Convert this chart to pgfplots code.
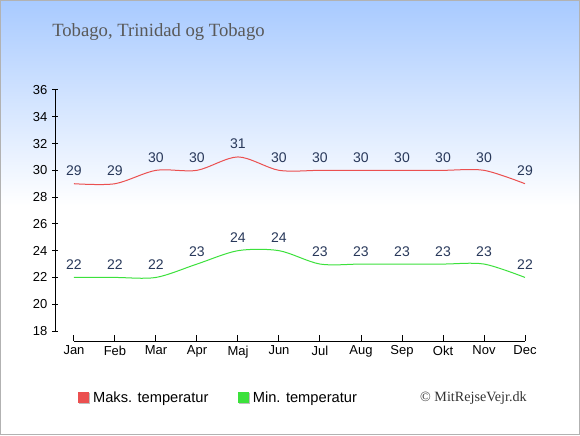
\documentclass[border=0pt]{standalone}
\usepackage{pgfplots}
\pgfplotsset{compat=1.18}
\usepackage{fontspec}
\setmainfont{Liberation Serif}
\setsansfont{Liberation Sans}
\definecolor{maxc}{RGB}{235,80,80}
\definecolor{minc}{RGB}{60,225,60}
\definecolor{labc}{RGB}{40,56,90}
\definecolor{topc}{RGB}{168,202,255}
\begin{document}
\begin{tikzpicture}
\fill[white] (0pt,0pt) rectangle (435pt,326.25pt);
\shade[top color=topc, bottom color=white] (0pt,172pt) rectangle (435pt,326.25pt);
\draw[black!30, line width=0.75pt] (0.375pt,0.375pt) rectangle (434.625pt,325.875pt);
\node[anchor=west, font=\fontsize{14}{16}\selectfont, text=black!65, inner sep=0pt] at (39pt,302.25pt) {Tobago, Trinidad og Tobago};
\node[anchor=east, font=\fontsize{10.6}{12}\selectfont, text=black!80, inner sep=0pt] at (395.25pt,27.75pt) {© MitRejseVejr.dk};
\begin{axis}[
  at={(41.25pt,70.5pt)}, anchor=south west,
  scale only axis, width=352.5pt, height=188.25pt,
  xmin=-0.463, xmax=11, ymin=17.253, ymax=36,
  axis x line=bottom, axis y line=left,
  axis line style={draw=none},
  xtick={0,...,11},
  xticklabels={Jan,Feb,Mar,Apr,Maj,Jun,Jul,Aug,Sep,Okt,Nov,Dec},
  ytick={18,20,...,36},
  tick style={black, line width=0.75pt},
  major tick length=4.5pt,
  xtick align=inside, ytick align=center,
  ticklabel style={font=\sffamily\fontsize{9.75}{11}\selectfont, text=black},
  /pgf/number format/assume math mode=true,
  clip=false,
  nodes near coords,
  nodes near coords style={font=\sffamily\fontsize{10.5}{12}\selectfont, text=labc, anchor=south, inner sep=0pt, yshift=5.5pt},
  legend columns=2,
  legend style={at={(0.04,-0.227)}, anchor=west, draw=none, fill=none,
    font=\sffamily\fontsize{11}{13}\selectfont,
    /tikz/every even column/.append style={column sep=20pt}},
]
\addplot[maxc, line width=0.75pt, smooth, tension=0.5,
  legend image code/.code={\fill[black!25] (1pt,-4.5pt) rectangle (8.5pt,3pt);\fill[maxc] (0pt,-3.5pt) rectangle (7.5pt,4pt);}]
  coordinates {(0,29)(1,29)(2,30)(3,30)(4,31)(5,30)(6,30)(7,30)(8,30)(9,30)(10,30)(11,29)};
\addlegendentry{Maks. temperatur}
\addplot[minc, line width=0.75pt, smooth, tension=0.5,
  legend image code/.code={\fill[black!25] (1pt,-4.5pt) rectangle (8.5pt,3pt);\fill[minc] (0pt,-3.5pt) rectangle (7.5pt,4pt);}]
  coordinates {(0,22)(1,22)(2,22)(3,23)(4,24)(5,24)(6,23)(7,23)(8,23)(9,23)(10,23)(11,22)};
\addlegendentry{Min. temperatur}
\draw[black, line width=0.75pt] (axis cs:-0.463,18) -- (axis cs:-0.463,36);
\draw[black, line width=0.75pt] (axis cs:0,17.253) -- (axis cs:11,17.253);
\end{axis}
\end{tikzpicture}
\end{document}
